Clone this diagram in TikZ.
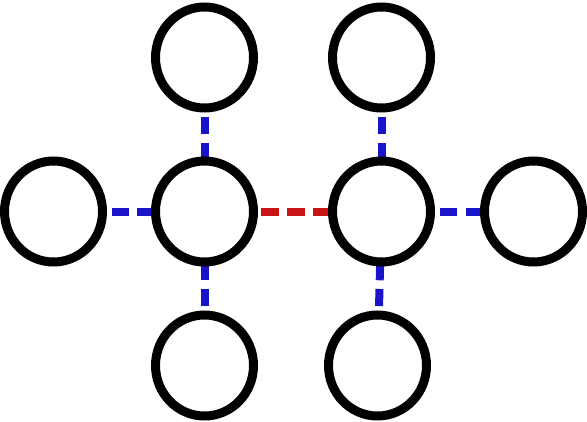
\documentclass[tikz,border=0pt]{standalone}
\usepackage{tikz}
\usetikzlibrary{positioning, shapes.geometric, backgrounds}

\definecolor{bondblue}{RGB}{26,20,200}
\definecolor{bondred}{RGB}{200,20,20}

\begin{document}
\begin{tikzpicture}[
    x=1pt, y=-1pt,
    node distance=44pt and 44pt,
    atom/.style={draw, ellipse, line width=9pt, minimum width=98pt, minimum height=101pt, inner sep=0pt},
    bond/.style={line width=8pt, dash pattern=on 17.3pt off 8.7pt, shorten <=-3.5pt, shorten >=4.5pt, color=bondblue},
]
    \useasboundingbox (0,0) rectangle (587,421);

    % two central atoms
    \node[atom]                    (c1) at (204.5,211.5) {};
    \node[atom, right=70pt of c1]  (c2) {};

    % outer atoms
    \node[atom, left=of c1]        (l1) {};
    \node[atom, above=of c1]       (t1) {};
    \node[atom, below=of c1]       (b1) {};
    \node[atom, above=of c2]       (t2) {};
    \node[atom, below=of c2, xshift=-4pt] (b2) {};
    \node[atom, right=45pt of c2]  (r2) {};

    \begin{scope}[on background layer]
        \draw[bond] (c1) -- (l1);
        \draw[bond] (c1) -- (t1);
        \draw[bond] (c1) -- (b1);
        \draw[bond] (c2) -- (t2);
        \draw[bond] (c2) -- (b2);
        \draw[bond, shorten <=-3.3pt, shorten >=-3pt] (r2) -- (c2);
        \draw[bond, color=bondred, shorten <=-2.7pt, shorten >=3.4pt] (c2) -- (c1);
    \end{scope}
\end{tikzpicture}
\end{document}
